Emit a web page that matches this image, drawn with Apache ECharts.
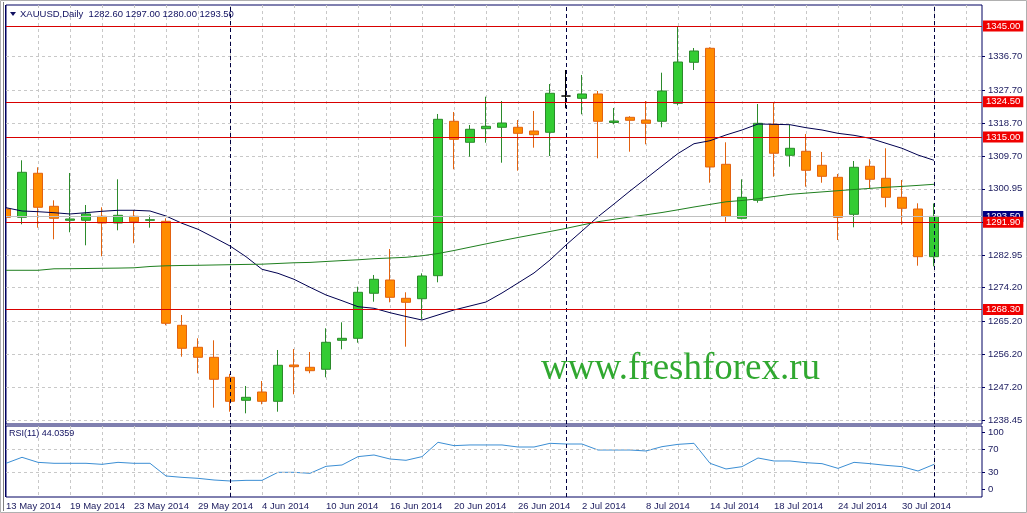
<!DOCTYPE html>
<html><head><meta charset="utf-8">
<script src="https://cdn.jsdelivr.net/npm/echarts@6/dist/echarts.min.js"></script>
<style>html,body{margin:0;padding:0;background:#fff}#c{width:1027px;height:513px}</style>
</head><body><div id="c"></div>
<script>
const dates = ['13 May 2014','14 May 2014','15 May 2014','16 May 2014','19 May 2014','20 May 2014','21 May 2014','22 May 2014','23 May 2014','26 May 2014','27 May 2014','28 May 2014','29 May 2014','30 May 2014','2 Jun 2014','3 Jun 2014','4 Jun 2014','5 Jun 2014','6 Jun 2014','9 Jun 2014','10 Jun 2014','11 Jun 2014','12 Jun 2014','13 Jun 2014','16 Jun 2014','17 Jun 2014','18 Jun 2014','19 Jun 2014','20 Jun 2014','23 Jun 2014','24 Jun 2014','25 Jun 2014','26 Jun 2014','27 Jun 2014','30 Jun 2014','1 Jul 2014','2 Jul 2014','3 Jul 2014','4 Jul 2014','7 Jul 2014','8 Jul 2014','9 Jul 2014','10 Jul 2014','11 Jul 2014','14 Jul 2014','15 Jul 2014','16 Jul 2014','17 Jul 2014','18 Jul 2014','21 Jul 2014','22 Jul 2014','23 Jul 2014','24 Jul 2014','25 Jul 2014','28 Jul 2014','29 Jul 2014','30 Jul 2014','31 Jul 2014','1 Aug 2014'];
const emptySlots = ['+1','+2','+3'];
const opens  = [1295.5,1293.25,1305.16,1296.23,1292.44,1292.44,1293.52,1291.71,1293.52,1292.44,1292.17,1264.04,1258.09,1255.38,1249.97,1243.75,1246.0,1243.48,1253.3,1252.68,1252.14,1259.98,1260.52,1272.7,1276.29,1271.34,1271.23,1277.46,1319.22,1313.54,1317.22,1317.6,1317.6,1316.6,1316.25,1326.06,1325.44,1326.61,1318.9,1320.3,1319.57,1319.22,1324.09,1335.18,1338.97,1307.59,1292.98,1297.85,1318.41,1310.02,1311.11,1307.32,1304.07,1294.06,1307.05,1303.8,1298.66,1295.5,1282.6];
const highs  = [1298.4,1308.67,1306.78,1297.85,1305.24,1296.58,1295.96,1303.53,1295.23,1293.79,1292.98,1266.83,1260.52,1259.98,1250.9,1247.62,1248.97,1257.36,1257.63,1256.82,1263.23,1264.85,1274.48,1277.65,1284.68,1272.97,1278.1,1321.2,1321.74,1318.22,1325.88,1324.71,1319.57,1322.01,1329.31,1333.1,1331.75,1327.42,1322.82,1320.6,1324.71,1332.37,1345.0,1339.05,1339.24,1313.54,1303.53,1323.9,1324.36,1318.22,1315.79,1310.92,1304.97,1308.48,1308.94,1311.92,1303.34,1297.04,1297.0];
const lows   = [1288.65,1291.36,1290.44,1287.3,1289.2,1285.68,1282.7,1289.74,1286.22,1290.44,1264.04,1255.55,1251.06,1241.75,1240.67,1240.23,1242.67,1240.67,1245.37,1251.06,1249.97,1257.55,1259.33,1270.42,1270.26,1258.25,1265.74,1275.67,1306.24,1309.65,1313.43,1308.02,1305.86,1312.08,1309.83,1322.74,1321.11,1309.21,1318.41,1311.0,1313.0,1317.6,1323.55,1333.1,1302.61,1292.06,1292.71,1297.2,1304.24,1306.94,1301.53,1302.61,1287.11,1290.55,1300.99,1295.96,1291.25,1280.16,1280.0];
const closes = [1293.25,1305.43,1295.96,1292.98,1292.8,1294.15,1291.71,1293.79,1292.06,1292.6,1264.58,1257.82,1255.38,1249.43,1243.48,1244.56,1243.48,1253.22,1252.84,1251.76,1259.44,1260.52,1272.97,1276.48,1271.61,1270.26,1277.37,1319.76,1314.35,1317.06,1317.87,1318.76,1315.97,1315.6,1326.8,1326.06,1326.61,1319.22,1319.3,1319.49,1318.68,1327.42,1335.26,1338.24,1306.86,1293.52,1298.66,1318.68,1310.57,1311.92,1305.97,1304.34,1293.25,1306.78,1303.53,1298.66,1295.69,1282.6,1293.5];
const maFast = [1295.85,1294.96,1294.77,1294.5,1294.15,1294.5,1294.88,1295.15,1295.15,1294.96,1293.6,1291.63,1290.01,1287.79,1285.49,1282.6,1279.19,1278.1,1276.48,1274.32,1272.24,1270.69,1269.07,1268.64,1267.45,1266.42,1265.47,1266.83,1268.18,1269.26,1270.34,1272.78,1275.48,1278.19,1281.7,1285.76,1289.55,1293.41,1296.85,1300.37,1303.75,1307.13,1310.51,1313.16,1313.97,1315.52,1316.87,1318.49,1318.41,1318.3,1317.49,1316.87,1315.97,1315.43,1314.62,1313.27,1311.92,1310.1,1308.67];
const maSlow = [1278.92,1278.92,1278.92,1279.32,1279.35,1279.4,1279.46,1279.51,1279.59,1279.94,1280.13,1280.22,1280.27,1280.35,1280.43,1280.51,1280.57,1280.76,1280.95,1281.05,1281.3,1281.54,1281.76,1282.05,1282.24,1282.43,1282.84,1283.46,1284.27,1285.17,1286.06,1286.95,1287.79,1288.6,1289.41,1290.25,1291.17,1292.06,1292.71,1293.33,1293.93,1294.55,1295.28,1296.04,1296.74,1297.45,1297.8,1298.26,1298.88,1299.47,1299.8,1300.12,1300.45,1300.77,1301.07,1301.37,1301.61,1301.88,1302.18];
const rsi = [45.9,56.5,47.6,45.9,45.9,45.9,44.1,47.6,45.9,45.9,23.5,21.1,19.4,16.4,14.7,15.8,15.8,30,30,28.2,40.6,42.9,57.7,60.6,53.5,51.2,57.7,83,77.1,78.3,78.3,78.3,74.7,74.7,81.2,80,80,69.4,69.4,69.4,67.7,75.3,79.4,81.2,45.9,35.9,40,55.3,50,50,47,45.3,37,47.6,45.3,42.3,40,32.3,44.04];
const priceTicks = [1336.70,1327.70,1318.70,1309.70,1300.95,1291.95,1282.95,1274.20,1265.20,1256.20,1247.20,1238.45];
const rsiTicks = [0,30,70,100];
const rsiLevels = [30,70];
const levels = [1345.00,1324.50,1315.00,1291.90,1268.30];
const bid = 1293.50;
const separators = ['2 Jun 2014','1 Jul 2014','1 Aug 2014'];
const headerText = 'XAUUSD,Daily  1282.60 1297.00 1280.00 1293.50';
const rsiText = 'RSI(11) 44.0359';
const watermark = 'www.freshforex.ru';

const cats = dates.concat(emptySlots);
const FONT = 'Liberation Sans';
const AXC = '#1b1b5e';
const GRIDC = '#c8c8c8';

const candleData = dates.map((d, i) => {
  const v = [opens[i], closes[i], lows[i], highs[i]];
  if (opens[i] === closes[i]) {
    return { value: v, itemStyle: { color: '#000', color0: '#000', borderColor: '#000', borderColor0: '#000', borderColorDoji: '#000' } };
  }
  return v;
});

const sepLines = separators.map(s => ({ xAxis: s, lineStyle: { color: '#000040', type: [4, 3], width: 1 }, label: { show: false } }));
const bidLine = { yAxis: bid, lineStyle: { color: '#c0c0c0', type: 'solid', width: 1 },
  label: { show: true, position: 'end', distance: 1, formatter: bid.toFixed(2), color: '#fff', backgroundColor: '#000080', padding: [1, 3, 0, 3], fontSize: 9.5, fontFamily: FONT } };
const levelLines = levels.map(v => ({ yAxis: v, lineStyle: { color: '#d80000', type: 'solid', width: 1, opacity: 1 },
  label: { show: true, position: 'end', distance: 1, formatter: v.toFixed(2), color: '#fff', backgroundColor: '#f00000', padding: [1, 3, 0, 3], fontSize: 9.5, fontFamily: FONT } }));
const rsiLevelLines = rsiLevels.map(v => ({ yAxis: v, lineStyle: { color: GRIDC, type: [3, 3], width: 1 }, label: { show: false } }));

const chart = echarts.init(document.getElementById('c'), null, { renderer: 'canvas' });
chart.setOption({
  animation: false,
  backgroundColor: '#fff',
  textStyle: { fontFamily: FONT },
  grid: [
    { left: 6, width: 976, top: 5, height: 419, show: true, borderColor: '#000060', borderWidth: 1, backgroundColor: '#fff' },
    { left: 6, width: 976, top: 426, height: 71, show: true, borderColor: '#000060', borderWidth: 1, backgroundColor: '#fff' }
  ],
  xAxis: [
    { type: 'category', gridIndex: 0, data: cats, boundaryGap: false,
      axisLine: { show: false }, axisTick: { show: false }, axisLabel: { show: false },
      splitLine: { show: true, interval: (i) => i % 2 === 0 && i > 0, lineStyle: { color: GRIDC, type: [3, 3] } } },
    { type: 'category', gridIndex: 1, data: cats, boundaryGap: false,
      axisLine: { show: false }, axisTick: { show: false },
      axisLabel: { show: true, interval: (i) => i % 4 === 0 && i < dates.length, align: 'left', margin: 4, color: AXC, fontSize: 9.5, fontFamily: FONT },
      splitLine: { show: true, interval: (i) => i % 2 === 0 && i > 0, lineStyle: { color: GRIDC, type: [3, 3] } } }
  ],
  yAxis: [
    { type: 'value', gridIndex: 0, position: 'right', min: 1237.34, max: 1350.68, scale: true,
      axisLine: { show: false },
      axisTick: { show: true, length: 3, customValues: priceTicks, lineStyle: { color: '#000060' } },
      axisLabel: { customValues: priceTicks, formatter: (v) => v.toFixed(2), color: AXC, fontSize: 9.5, fontFamily: FONT, margin: 6 },
      splitLine: { show: true, lineStyle: { color: GRIDC, type: [3, 3] } } },
    { type: 'value', gridIndex: 1, position: 'right', min: -13.6, max: 111.8,
      axisLine: { show: false },
      axisTick: { show: true, length: 3, customValues: rsiTicks, lineStyle: { color: '#000060' } },
      axisLabel: { customValues: rsiTicks, formatter: (v) => String(v), color: AXC, fontSize: 9.5, fontFamily: FONT, margin: 6 },
      splitLine: { show: false } }
  ],
  series: [
    { type: 'candlestick', xAxisIndex: 0, yAxisIndex: 0, data: candleData, barWidth: 9, clip: true,
      itemStyle: { color: '#33cc33', color0: '#ff8c00', borderColor: '#2b8a2b', borderColor0: '#e2620f', borderWidth: 1 },
      markLine: { silent: true, symbol: ['none', 'none'], animation: false, data: sepLines.concat([bidLine]).concat(levelLines) },
      z: 3 },
    { type: 'line', xAxisIndex: 0, yAxisIndex: 0, data: maFast, showSymbol: false, symbol: 'none',
      lineStyle: { color: '#000050', width: 1 }, z: 4 },
    { type: 'line', xAxisIndex: 0, yAxisIndex: 0, data: maSlow, showSymbol: false, symbol: 'none',
      lineStyle: { color: '#1f7f1f', width: 1 }, z: 4 },
    { type: 'line', xAxisIndex: 1, yAxisIndex: 1, data: rsi, showSymbol: false, symbol: 'none',
      lineStyle: { color: '#3b8ed4', width: 1 },
      markLine: { silent: true, symbol: ['none', 'none'], animation: false, data: rsiLevelLines.concat(sepLines) } }
  ],
  graphic: [
    { type: 'rect', shape: { x: 0, y: 0, width: 5.5, height: 513 }, style: { fill: '#fff' }, silent: true, z: 20 },
    { type: 'rect', shape: { x: 0.5, y: 0.5, width: 1026, height: 512 }, style: { fill: 'none', stroke: '#b0b0b0', lineWidth: 1 }, silent: true, z: 21 },
    { type: 'line', shape: { x1: 3.5, y1: 2, x2: 3.5, y2: 511 }, style: { stroke: '#808080', lineWidth: 1 }, silent: true, z: 21 },
    { type: 'line', shape: { x1: 5.5, y1: 5, x2: 5.5, y2: 497 }, style: { stroke: '#000060', lineWidth: 1 }, silent: true, z: 21 },
    { type: 'polygon', shape: { points: [[10, 12], [16, 12], [13, 16]] }, style: { fill: '#101060' }, silent: true, z: 21 },
    { type: 'text', x: 20, y: 14, style: { text: headerText, fill: '#101060', font: '9.5px "Liberation Sans"', verticalAlign: 'middle' }, silent: true, z: 21 },
    { type: 'text', x: 9, y: 434, style: { text: rsiText, fill: '#101060', font: '9px "Liberation Sans"', verticalAlign: 'middle' }, silent: true, z: 21 },
    { type: 'text', x: 541, y: 369, style: { text: watermark, fill: '#30a830', font: '37px "Liberation Serif"', verticalAlign: 'middle' }, silent: true, z: 21 }
  ]
});
</script></body></html>
